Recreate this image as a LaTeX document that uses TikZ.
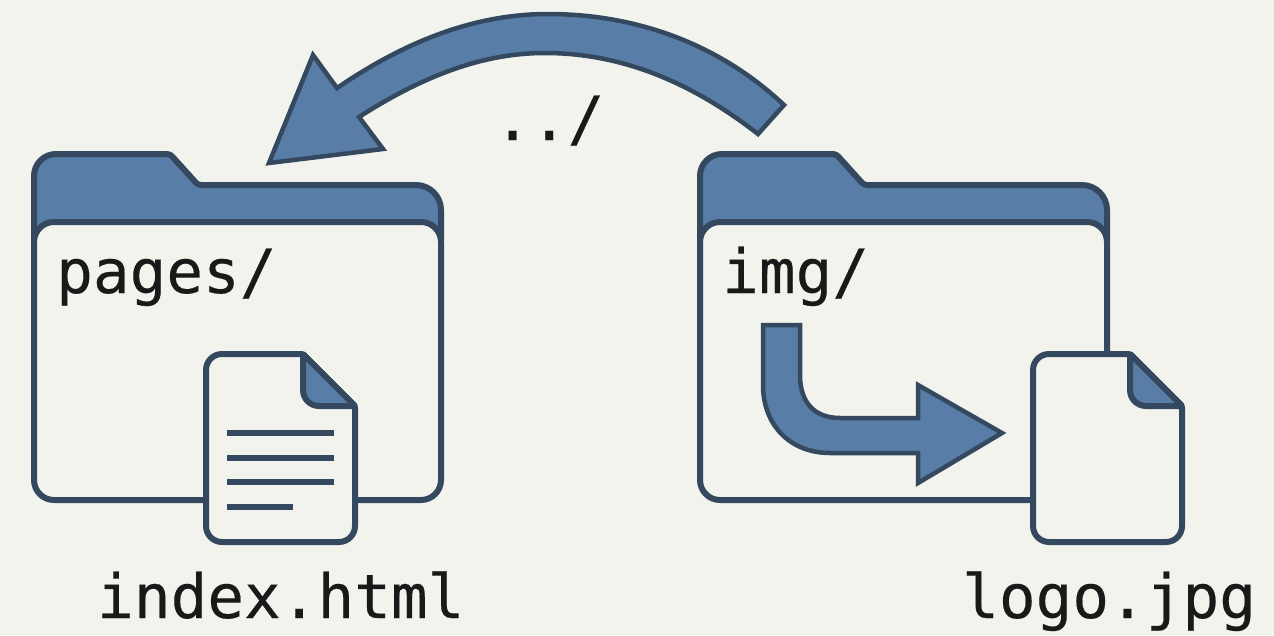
\documentclass[tikz,border=0pt]{standalone}
\usepackage{fontspec}
\setmonofont[FakeBold=0.3]{DejaVu Sans Mono}
\definecolor{bgc}{HTML}{F3F3EE}
\definecolor{inkc}{HTML}{34495F}
\definecolor{bluec}{HTML}{587DA7}
\tikzset{
  shapeline/.style={draw=inkc,line width=6pt,line join=round},
  bluefill/.style={shapeline,fill=bluec},
  paper/.style={shapeline,fill=bgc},
  textline/.style={draw=inkc,line width=6.5pt},
  arrowshape/.style={draw=inkc,line width=4.5pt,line join=miter,fill=bluec},
  codetext/.style={font=\ttfamily\fontsize{61}{70}\selectfont,text=black!90,inner sep=0pt,anchor=base west}
}
\newcommand{\folderat}[1]{%
  \begin{scope}[xshift=#1pt]
    \path[bluefill] (34,240)
      [rounded corners=22pt] --(34,154)
      [rounded corners=3pt] --(170,154)--(198,185)
      [rounded corners=25pt] --(441,185)
      [sharp corners] --(441,240)--cycle;
    \path[paper,rounded corners=20pt] (34,361)--(34,222)--(441,222)--(441,500)--(34,500)--cycle;
  \end{scope}}
\newcommand{\docat}[1]{%
  \begin{scope}[xshift=#1pt]
    \path[paper] (270,542)
      [rounded corners=16pt] --(206,542)--(206,354)
      [rounded corners=2pt] --(303,354)--(355,406)
      [rounded corners=16pt] --(355,542)--cycle;
    \path[bluefill] (303,354)--(355,406)
      [rounded corners=16pt] --(303,406)
      [sharp corners] --cycle;
  \end{scope}}
\begin{document}
\begin{tikzpicture}[x=1pt,y=-1pt]
\useasboundingbox (0,0) rectangle (1274,635);
\fill[bgc] (0,0) rectangle (1274,635);
% folders
\folderat{0}
\folderat{666}
% documents
\docat{0}
\docat{827}
% lines of text on index.html
\draw[textline] (227,433)--(334,433);
\draw[textline] (227,458)--(334,458);
\draw[textline] (227,482)--(334,482);
\draw[textline] (227,507)--(293,507);
% upward arrow
\path[arrowshape] (784,105) .. controls (715,40) and (630,14) .. (548,14)
  .. controls (470,14) and (400,45) .. (337,88)
  --(313,55)--(269,163)--(383,149)--(359,117)
  .. controls (420,78) and (480,53) .. (545,53)
  .. controls (625,53) and (695,85) .. (758,134)--cycle;
% bent arrow
\path[arrowshape] (763,325)--(800,325)--(800,375)
  .. controls (800,403) and (815,418) .. (840,418)
  --(918,418)--(918,385)--(1002,433)--(918,483)--(918,453)--(830,453)
  .. controls (790,453) and (763,425) .. (763,385)--cycle;
% labels
\node[codetext] (up) at (494,140) {../};
\node[codetext] (pages) at (56,293) {pages/};
\node[codetext] (img) at (722,293) {img/};
\node[codetext] (index) at (97,618) {index.html};
\node[codetext] (logo) at (962,618) {logo.jpg};
\end{tikzpicture}
\end{document}
